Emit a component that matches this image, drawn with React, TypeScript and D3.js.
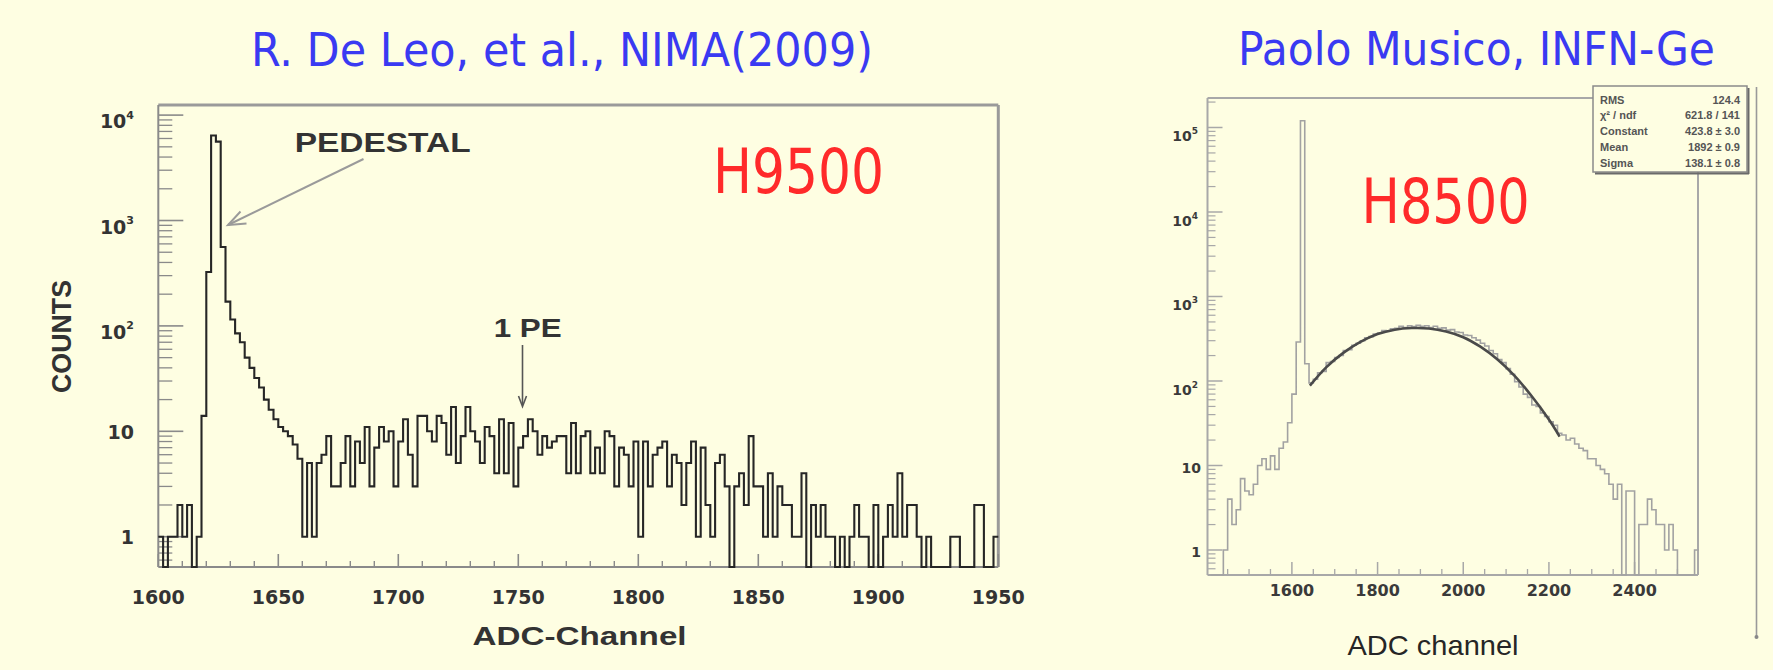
import * as d3 from "d3";

// Left panel: H9500 spectrum, 2-channel bins starting at 1600
const leftStart = 1600;
const leftBinWidth = 2;
const leftCounts = [
  1, 0, 1, 1, 2, 1, 2, 0, 1, 14,
  325, 6400, 5600, 560, 170, 115, 85, 70, 50, 40,
  32, 26, 20, 16, 13, 11, 10, 9, 7.5, 5.5,
  1, 5, 1, 5, 6, 9, 3, 3, 5, 9,
  3, 8, 5, 11, 3, 7, 11, 8, 10, 3,
  8, 13, 6, 3, 14, 14, 10, 8, 14, 12,
  6, 17, 5, 9, 17, 10, 8, 5, 11, 9,
  4, 13, 4, 12, 3, 7, 9, 13, 10, 6,
  9, 7, 8, 9, 9, 4, 12, 4, 9, 10,
  4, 7, 4, 10, 9, 3, 7, 6, 3, 8,
  1, 8, 3, 6, 7, 8, 3, 6, 5, 2,
  5, 8, 1, 7, 2, 1, 5, 6, 3, 0,
  3, 4, 2, 9, 3, 3, 1, 4, 1, 3,
  2, 2, 1, 1, 4, 0, 2, 1, 2, 1,
  1, 0, 1, 0, 1, 2, 1, 1, 0, 2,
  0, 1, 2, 1, 4, 1, 2, 2, 1, 0,
  1, 0, 0, 0, 0, 1, 1, 0, 0, 0,
  2, 2, 0, 0, 1,
];
const leftXTicks = [1600, 1650, 1700, 1750, 1800, 1850, 1900, 1950];
const leftDecades = [1, 10, 100, 1000, 10000];

// Right panel: H8500 spectrum, 10-channel bins starting at 1410
const rightStart = 1410;
const rightBinWidth = 10;
const rightCounts = [
  0, 0, 0, 1, 4, 2, 3, 7, 5, 4.5,
  6, 10, 12, 9, 13, 9, 16, 19, 32, 70,
  290, 120000, 160, 95, 105, 125, 130, 165, 170, 190,
  200, 230, 235, 265, 280, 300, 325, 335, 360, 370,
  395, 390, 415, 420, 445, 430, 450, 440, 455, 445,
  450, 430, 445, 420, 425, 400, 405, 380, 375, 350,
  345, 325, 305, 280, 260, 230, 210, 180, 165, 140,
  120, 98, 85, 70, 64, 52, 50, 42, 38, 33,
  30, 24, 23, 20, 21, 18, 16, 15, 12, 12,
  10, 9, 8, 6, 4, 6, 0, 5, 5, 0,
  2, 2, 4, 3, 2, 2, 1, 2, 1, 0,
  0, 0, 0, 1,
];
const fitChannels = [1642, 1680, 1720, 1760, 1800, 1840, 1880, 1920, 1960, 2000, 2040, 2080, 2120, 2160, 2200, 2225];
const fitCounts = [88, 145, 215, 290, 360, 405, 423, 418, 385, 330, 255, 180, 115, 66, 35, 22];
const rightXTicks = [1600, 1800, 2000, 2200, 2400];
const rightDecades = [1, 10, 100, 1000, 10000, 100000];

const statsLabels = ["RMS", "χ² / ndf", "Constant", "Mean", "Sigma"];
const statsValues = ["124.4", "621.8 / 141", "423.8 ± 3.0", "1892 ± 0.9", "138.1 ± 0.8"];

const bg = "#fefee2";
const titleBlue = "#3a3af2";
const labelRed = "#ff2a2a";

function minorLogTicks(domain: [number, number]) {
  const out: number[] = [];
  for (let e = -1; e <= 6; e++) {
    const base = Math.pow(10, e);
    for (let k = 2; k <= 9; k++) {
      const v = k * base;
      if (v >= domain[0] && v <= domain[1]) out.push(v);
    }
  }
  return out;
}

function stepPath(
  start: number,
  width: number,
  counts: number[],
  x: (v: number) => number,
  y: (v: number) => number,
  floor: number,
) {
  const pts: [number, number][] = counts.map((c, i) => [start + i * width, c]);
  pts.push([start + counts.length * width, counts[counts.length - 1]]);
  return (
    d3
      .line<[number, number]>()
      .curve(d3.curveStepAfter)
      .x((d) => x(d[0]))
      .y((d) => y(Math.max(d[1], floor)))(pts) ?? ""
  );
}

function PowerLabel({ value, x, y, size, supSize, fill }: { value: number; x: number; y: number; size: number; supSize: number; fill: string }) {
  const exp = Math.round(Math.log10(value));
  const common = { fontFamily: "DejaVu Sans", fontWeight: "bold" as const, fill, textAnchor: "end" as const };
  if (exp <= 1) {
    return (
      <text x={x} y={y} fontSize={size} {...common}>
        {exp === 0 ? "1" : "10"}
      </text>
    );
  }
  return (
    <text x={x} y={y} fontSize={size} {...common}>
      10
      <tspan fontSize={supSize} dy={-size * 0.5}>
        {exp}
      </tspan>
    </text>
  );
}

function LeftPanel() {
  const left = 158.3;
  const right = 998.3;
  const top = 105;
  const bottom = 567;
  const yDomain: [number, number] = [0.516, 12470];
  const x = d3.scaleLinear().domain([1600, 1950]).range([left, right]);
  const y = d3.scaleLog().domain(yDomain).range([bottom, top]);
  const minorX = d3.range(1610, 1950, 10).filter((v) => v % 50 !== 0);
  const axisColor = "#8a8a8a";
  const ink = "#333";

  return (
    <g>
      {/* frame */}
      <line x1={left} x2={right} y1={top} y2={top} stroke="#9a9a9a" strokeWidth={3} />
      <line x1={right} x2={right} y1={top} y2={bottom} stroke="#9a9a9a" strokeWidth={3} />
      <line x1={left} x2={left} y1={top} y2={bottom} stroke={axisColor} strokeWidth={2} />
      <line x1={left} x2={right} y1={bottom} y2={bottom} stroke={axisColor} strokeWidth={2} />

      {leftDecades.map((d) => (
        <g key={`ld-${d}`}>
          <line x1={left} x2={left + 25} y1={y(d)} y2={y(d)} stroke={axisColor} strokeWidth={1.6} />
          <PowerLabel value={d} x={134} y={y(d) + (d >= 100 ? 13 : 7.5)} size={19} supSize={11} fill={ink} />
        </g>
      ))}
      {minorLogTicks(yDomain).map((v) => (
        <line key={`lm-${v}`} x1={left} x2={left + 14} y1={y(v)} y2={y(v)} stroke={axisColor} strokeWidth={1.3} />
      ))}

      {leftXTicks.map((t) => (
        <g key={`lx-${t}`}>
          <line x1={x(t)} x2={x(t)} y1={bottom} y2={bottom - 13} stroke={axisColor} strokeWidth={1.6} />
          <text x={x(t)} y={603.5} textAnchor="middle" fontFamily="DejaVu Sans" fontWeight="bold" fontSize={19} fill={ink}>
            {t}
          </text>
        </g>
      ))}
      {minorX.map((t) => (
        <line key={`lxm-${t}`} x1={x(t)} x2={x(t)} y1={bottom} y2={bottom - 6} stroke={axisColor} strokeWidth={1.4} />
      ))}

      <path d={stepPath(leftStart, leftBinWidth, leftCounts, x, y, yDomain[0])} fill="none" stroke="#262626" strokeWidth={2.1} />

      {/* annotations */}
      <text x={294.7} y={151.7} fontFamily="Liberation Sans" fontWeight="bold" fontSize={27} fill={ink} textLength={176} lengthAdjust="spacingAndGlyphs">
        PEDESTAL
      </text>
      <line x1={363.5} y1={159} x2={228} y2={225} stroke="#9a9a9a" strokeWidth={2} />
      <path d="M240.5,211.5 L228,225 L246.5,223.5" fill="none" stroke="#9a9a9a" strokeWidth={2} />

      <text x={493.7} y={336.7} fontFamily="Liberation Sans" fontWeight="bold" fontSize={26} fill={ink} textLength={68} lengthAdjust="spacingAndGlyphs">
        1 PE
      </text>
      <line x1={522.5} x2={522.5} y1={345} y2={405} stroke="#555" strokeWidth={1.6} />
      <path d="M518.5,396 L522.5,406.5 L526.5,396" fill="none" stroke="#555" strokeWidth={1.6} />

      <text
        transform="translate(71, 336.5) rotate(-90)"
        textAnchor="middle"
        fontFamily="Liberation Sans"
        fontWeight="bold"
        fontSize={28}
        fill={ink}
        textLength={113}
        lengthAdjust="spacingAndGlyphs"
      >
        COUNTS
      </text>
      <text x={579.6} y={645} textAnchor="middle" fontFamily="Liberation Sans" fontWeight="bold" fontSize={25} fill={ink} textLength={214} lengthAdjust="spacingAndGlyphs">
        ADC-Channel
      </text>

      <text x={713} y={193.3} fontFamily="DejaVu Sans" fontSize={62} fill={labelRed} textLength={171} lengthAdjust="spacingAndGlyphs">
        H9500
      </text>
    </g>
  );
}

function RightPanel() {
  const left = 1207.5;
  const right = 1698;
  const top = 98;
  const bottom = 575;
  const yDomain: [number, number] = [0.506, 223400];
  const x = d3.scaleLinear().domain([1403, 2548]).range([left, right]);
  const y = d3.scaleLog().domain(yDomain).range([bottom, top]);
  const minorX = d3.range(1450, 2548, 50).filter((v) => v % 200 !== 0);
  const axisColor = "#a8a8a8";
  const ink = "#3a3a3a";
  const box = { x0: 1593, x1: 1747, y0: 86, y1: 172 };

  const fitLine = d3
    .line<number>()
    .curve(d3.curveCatmullRom)
    .x((_, i) => x(fitChannels[i]))
    .y((d) => y(d));

  return (
    <g>
      <line x1={left} x2={box.x0} y1={top} y2={top} stroke={axisColor} strokeWidth={2} />
      <line x1={right} x2={right} y1={box.y1} y2={bottom} stroke={axisColor} strokeWidth={2} />
      <line x1={left} x2={left} y1={top} y2={bottom} stroke={axisColor} strokeWidth={2} />
      <line x1={left} x2={right} y1={bottom} y2={bottom} stroke={axisColor} strokeWidth={2} />

      {rightDecades.map((d) => (
        <g key={`rd-${d}`}>
          <line x1={left} x2={left + 15} y1={y(d)} y2={y(d)} stroke={axisColor} strokeWidth={1.5} />
          <PowerLabel value={d} x={d >= 100 ? 1198 : 1201} y={y(d) + (d >= 100 ? 14 : 7)} size={14} supSize={9} fill={ink} />
        </g>
      ))}
      {minorLogTicks(yDomain).map((v) => (
        <line key={`rm-${v}`} x1={left} x2={left + 8} y1={y(v)} y2={y(v)} stroke={axisColor} strokeWidth={1.2} />
      ))}

      {rightXTicks.map((t) => (
        <g key={`rx-${t}`}>
          <line x1={x(t)} x2={x(t)} y1={bottom} y2={bottom - 13} stroke={axisColor} strokeWidth={1.5} />
          <text x={x(t)} y={596} textAnchor="middle" fontFamily="DejaVu Sans" fontWeight="bold" fontSize={16} fill={ink}>
            {t}
          </text>
        </g>
      ))}
      {minorX.map((t) => (
        <line key={`rxm-${t}`} x1={x(t)} x2={x(t)} y1={bottom} y2={bottom - 6} stroke={axisColor} strokeWidth={1.3} />
      ))}

      <path d={stepPath(rightStart, rightBinWidth, rightCounts, x, y, yDomain[0])} fill="none" stroke="#a2a2a2" strokeWidth={1.6} />
      <path d={fitLine(fitCounts) ?? ""} fill="none" stroke="#4a4a4a" strokeWidth={2.6} />

      {/* stats box */}
      <rect x={box.x0} y={box.y0} width={box.x1 - box.x0} height={box.y1 - box.y0} fill={bg} stroke="#8a8a8a" strokeWidth={1.5} />
      <line x1={box.x0 + 2} x2={box.x1 + 2} y1={box.y1 + 1.5} y2={box.y1 + 1.5} stroke="#6a6a6a" strokeWidth={2} />
      <line x1={box.x1 + 1.5} x2={box.x1 + 1.5} y1={box.y0 + 2} y2={box.y1 + 2} stroke="#6a6a6a" strokeWidth={2} />
      {statsLabels.map((label, i) => (
        <g key={label} fontFamily="Liberation Sans" fontWeight="bold" fontSize={11} fill="#555">
          <text x={1600} y={103.5 + i * 15.8}>
            {label}
          </text>
          <text x={1740} y={103.5 + i * 15.8} textAnchor="end">
            {statsValues[i]}
          </text>
        </g>
      ))}

      <line x1={1756.5} x2={1756.5} y1={87} y2={637} stroke="#9a9a9a" strokeWidth={1.6} />
      <circle cx={1756.5} cy={637} r={2} fill="#888" />

      <text x={1433} y={655} textAnchor="middle" fontFamily="Liberation Sans" fontSize={28} fill="#262626" textLength={171} lengthAdjust="spacingAndGlyphs">
        ADC channel
      </text>

      <text x={1361.6} y={222.7} fontFamily="DejaVu Sans" fontSize={62} fill={labelRed} textLength={168} lengthAdjust="spacingAndGlyphs">
        H8500
      </text>
    </g>
  );
}

export default function App() {
  return (
    <svg width={1773} height={670} style={{ position: "absolute", left: 0, top: 0 }}>
      <rect width={1773} height={670} fill={bg} />
      <text x={251} y={65.7} fontFamily="DejaVu Sans" fontSize={47} fill={titleBlue} textLength={622} lengthAdjust="spacingAndGlyphs">
        R. De Leo, et al., NIMA(2009)
      </text>
      <text x={1238} y={65} fontFamily="DejaVu Sans" fontSize={47} fill={titleBlue} textLength={477} lengthAdjust="spacingAndGlyphs">
        Paolo Musico, INFN-Ge
      </text>
      <LeftPanel />
      <RightPanel />
    </svg>
  );
}
